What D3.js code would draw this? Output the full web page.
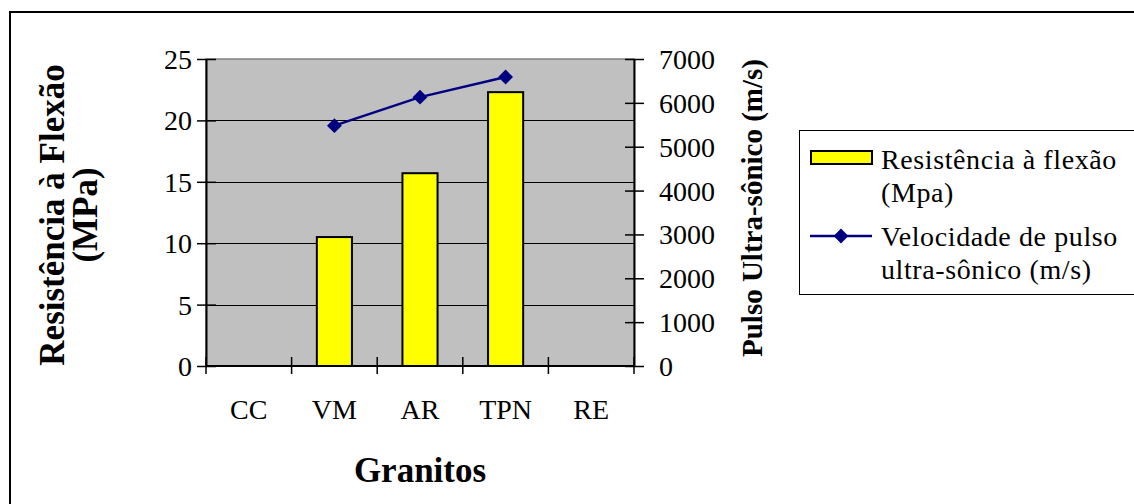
<!DOCTYPE html>
<html>
<head>
<meta charset="utf-8">
<script src="https://cdn.jsdelivr.net/npm/d3@7"></script>
<style>
  html, body { margin: 0; padding: 0; background: #fff; }
  svg { display: block; }
  text { font-family: "Liberation Serif", "Times New Roman", serif; fill: #000; }
</style>
</head>
<body>
<svg id="chart" width="1134" height="504"></svg>
<script>
// Granitos: flexural strength (bars, left axis) and ultrasonic pulse velocity (line, right axis)
const categories = ["CC", "VM", "AR", "TPN", "RE"];
const resistencia = [null, 10.5, 15.7, 22.3, null];      // MPa
const velocidade  = [null, 5480, 6130, 6590, null];      // m/s
const leftTicks  = [0, 5, 10, 15, 20, 25];
const rightTicks = [0, 1000, 2000, 3000, 4000, 5000, 6000, 7000];
const seriesNames = ["Resistência à flexão", "(Mpa)", "Velocidade de pulso", "ultra-sônico (m/s)"];

const svg = d3.select("#chart");
const plot = { left: 206, right: 634, top: 59, bottom: 366 };
const serif = "Liberation Serif";

const x = d3.scaleBand().domain(categories).range([plot.left, plot.right]);
const yL = d3.scaleLinear().domain([0, 25]).range([plot.bottom, plot.top]);
const yR = d3.scaleLinear().domain([0, 7000]).range([plot.bottom, plot.top]);

// outer chart frame
svg.append("rect").attr("x", 10).attr("y", 12).attr("width", 1300).attr("height", 700)
  .attr("fill", "none").attr("stroke", "#000").attr("stroke-width", 2);

// plot background
svg.append("rect").attr("x", plot.left).attr("y", plot.top)
  .attr("width", plot.right - plot.left).attr("height", plot.bottom - plot.top)
  .attr("fill", "#c0c0c0").attr("stroke", "#808080").attr("stroke-width", 1.5);

// horizontal gridlines
svg.append("g").selectAll("line").data(leftTicks.filter(d => d > 0 && d < 25)).join("line")
  .attr("x1", plot.left).attr("x2", plot.right)
  .attr("y1", d => Math.round(yL(d)) + 0.5).attr("y2", d => Math.round(yL(d)) + 0.5)
  .attr("stroke", "#000").attr("stroke-width", 1);

// bars
const barW = x.bandwidth() * 0.41;
svg.append("g").selectAll("rect")
  .data(categories.map((c, i) => ({ c, v: resistencia[i] })).filter(d => d.v != null))
  .join("rect")
  .attr("x", d => x(d.c) + (x.bandwidth() - barW) / 2)
  .attr("y", d => yL(d.v))
  .attr("width", barW)
  .attr("height", d => yL(0) - yL(d.v))
  .attr("fill", "#ffff00").attr("stroke", "#000").attr("stroke-width", 2);

// left axis
const axL = svg.append("g").attr("transform", `translate(${plot.left},0)`)
  .call(d3.axisLeft(yL).tickValues(leftTicks).tickFormat(d3.format("d"))
    .tickSize(9).tickPadding(5).tickSizeOuter(0));
axL.attr("font-family", serif).attr("font-size", 28);
axL.select(".domain").attr("stroke", "#000").attr("stroke-width", 2);
axL.selectAll(".tick line").attr("x1", 10).attr("stroke-width", 1.5);
axL.selectAll(".tick text").attr("dy", "0.34em");

// right axis
const axR = svg.append("g").attr("transform", `translate(${plot.right},0)`)
  .call(d3.axisRight(yR).tickValues(rightTicks).tickFormat(d3.format("d"))
    .tickSize(10).tickPadding(15).tickSizeOuter(0));
axR.attr("font-family", serif).attr("font-size", 28);
axR.select(".domain").attr("stroke", "#000").attr("stroke-width", 2);
axR.selectAll(".tick line").attr("x1", -9).attr("stroke-width", 1.5);
axR.selectAll(".tick text").attr("dy", "0.34em");

// bottom axis: line, category separators, labels
svg.append("line").attr("x1", plot.left).attr("x2", plot.right)
  .attr("y1", plot.bottom).attr("y2", plot.bottom).attr("stroke", "#000").attr("stroke-width", 2);
const bounds = categories.map(c => x(c)).concat([plot.right]);
svg.append("g").selectAll("line").data(bounds).join("line")
  .attr("x1", d => d).attr("x2", d => d)
  .attr("y1", plot.bottom - 9).attr("y2", plot.bottom + 8)
  .attr("stroke", "#000").attr("stroke-width", 1.5);
svg.append("g").selectAll("text").data(categories).join("text")
  .attr("x", d => x(d) + x.bandwidth() / 2).attr("y", 419)
  .attr("text-anchor", "middle").attr("font-size", 28).text(d => d);

// velocity line
const pts = categories.map((c, i) => ({ c, v: velocidade[i] })).filter(d => d.v != null);
const cx = d => x(d.c) + x.bandwidth() / 2;
svg.append("path").datum(pts)
  .attr("d", d3.line().x(cx).y(d => yR(d.v)))
  .attr("fill", "none").attr("stroke", "#000080").attr("stroke-width", 2.5);
svg.append("g").selectAll("path").data(pts).join("path")
  .attr("transform", d => `translate(${cx(d)},${yR(d.v)}) rotate(45)`)
  .attr("d", d3.symbol().type(d3.symbolSquare).size(110))
  .attr("fill", "#000080");

// axis titles
svg.append("text").attr("transform", "translate(64,215) rotate(-90)")
  .attr("text-anchor", "middle").attr("font-size", 35).attr("font-weight", "bold")
  .text("Resistência à Flexão");
svg.append("text").attr("transform", "translate(97,215) rotate(-90)")
  .attr("text-anchor", "middle").attr("font-size", 35).attr("font-weight", "bold")
  .text("(MPa)");
svg.append("text").attr("transform", "translate(762,208) rotate(-90)")
  .attr("text-anchor", "middle").attr("font-size", 29).attr("font-weight", "bold")
  .text("Pulso Ultra-sônico (m/s)");
svg.append("text").attr("x", (plot.left + plot.right) / 2).attr("y", 482)
  .attr("text-anchor", "middle").attr("font-size", 35).attr("font-weight", "bold")
  .text("Granitos");

// legend
const lg = svg.append("g");
lg.append("rect").attr("x", 799.5).attr("y", 130.5).attr("width", 400).attr("height", 164)
  .attr("fill", "#fff").attr("stroke", "#000").attr("stroke-width", 1);
lg.append("rect").attr("x", 811).attr("y", 151).attr("width", 61).attr("height", 13)
  .attr("fill", "#ffff00").attr("stroke", "#000").attr("stroke-width", 2);
lg.append("line").attr("x1", 810).attr("x2", 872).attr("y1", 236).attr("y2", 236)
  .attr("stroke", "#000080").attr("stroke-width", 2.5);
lg.append("path").attr("transform", "translate(841,236) rotate(45)")
  .attr("d", d3.symbol().type(d3.symbolSquare).size(110)).attr("fill", "#000080");
const legY = [169, 202, 246, 279];
lg.selectAll("text.lbl").data(seriesNames).join("text").attr("class", "lbl")
  .attr("x", 881).attr("y", (d, i) => legY[i])
  .attr("font-size", 28).attr("letter-spacing", 0.6).text(d => d);
</script>
</body>
</html>
